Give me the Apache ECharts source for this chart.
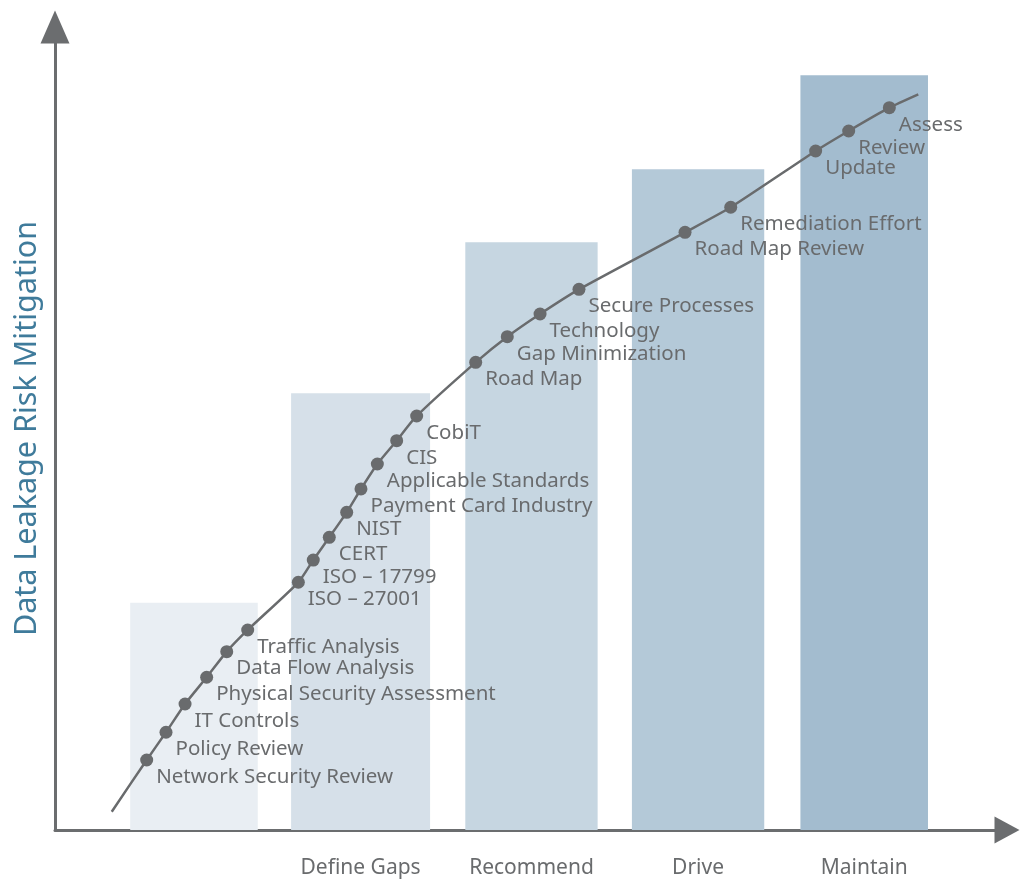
<!DOCTYPE html>
<html>
<head>
<meta charset="utf-8">
<script src="https://cdn.jsdelivr.net/npm/echarts@6/dist/echarts.min.js"></script>
<style>
html,body{margin:0;padding:0;background:#fff;}
#chart{width:1021px;height:882px;}
</style>
</head>
<body>
<div id="chart"></div>
<script>
// ---- data (chart units: x 0..100 along the horizontal axis, y 0..100 mitigation) ----
const phaseNames = ['', 'Define Gaps', 'Recommend', 'Drive', 'Maintain'];
const phaseStart = [7.9, 24.8, 43.1, 60.6, 78.3];
const phaseEnd   = [21.3, 39.4, 57.0, 74.5, 91.7];
const phaseLevel = [28.3, 54.4, 73.2, 82.3, 94.0];

const stepNames = ['', 'Network Security Review', 'Policy Review', 'IT Controls',
  'Physical Security Assessment', 'Data Flow Analysis', 'Traffic Analysis',
  'ISO – 27001', 'ISO – 17799', 'CERT', 'NIST', 'Payment Card Industry',
  'Applicable Standards', 'CIS', 'CobiT', 'Road Map', 'Gap Minimization',
  'Technology', 'Secure Processes', 'Road Map Review', 'Remediation Effort',
  'Update', 'Review', 'Assess', ''];
const stepX = [5.96, 9.63, 11.66, 13.66, 15.93, 18.04, 20.24, 25.56, 27.13, 28.81,
  30.64, 32.14, 33.86, 35.89, 37.99, 44.19, 47.51, 50.95, 55.04, 66.18, 70.98,
  79.90, 83.37, 87.64, 90.68];
const stepY = [2.28, 8.72, 12.17, 15.69, 19.02, 22.21, 24.91, 30.85, 33.62, 36.45,
  39.56, 42.47, 45.58, 48.48, 51.56, 58.24, 61.43, 64.26, 67.33, 74.43, 77.55,
  84.56, 87.05, 89.95, 91.62];

// ---- styles ----
const phaseColors = ['#e9eef3', '#d6e0e9', '#c6d6e1', '#b4c9d8', '#a3bccf'];
const inkGrey = '#696b6d';
const font = 'Noto Sans';

const chart = echarts.init(document.getElementById('chart'), null, {renderer: 'canvas'});

const phaseData = phaseNames.map((n, i) => [phaseStart[i], phaseEnd[i], phaseLevel[i], i]);
const labelValues = [];
const labelMap = {};
phaseNames.forEach((n, i) => {
  if (n) {
    const c = +((phaseStart[i] + phaseEnd[i]) / 2).toFixed(3);
    labelValues.push(c);
    labelMap[c] = n;
  }
});

const stepData = stepNames.map((n, i) => {
  const item = {name: n, value: [stepX[i], stepY[i]]};
  if (!n) { item.symbol = 'none'; item.label = {show: false}; }
  return item;
});

chart.setOption({
  animation: false,
  backgroundColor: '#ffffff',
  grid: {left: 55, right: 14, top: 27, bottom: 52, containLabel: false},
  xAxis: {
    type: 'value', min: 0, max: 100,
    splitLine: {show: false},
    axisTick: {show: false},
    axisLine: {
      show: true, onZero: false,
      lineStyle: {color: '#6b6d6f', width: 3},
      symbol: ['none', 'triangle'], symbolSize: [27, 25]
    },
    axisLabel: {
      show: true,
      customValues: labelValues,
      formatter: v => labelMap[+v.toFixed(3)] || '',
      color: inkGrey, fontFamily: font, fontSize: 21, margin: 28
    }
  },
  yAxis: {
    type: 'value', min: 0, max: 100,
    splitLine: {show: false},
    axisTick: {show: false},
    axisLabel: {show: false},
    axisLine: {
      show: true, onZero: false,
      lineStyle: {color: '#6b6d6f', width: 3},
      symbol: ['none', 'triangle'], symbolSize: [29, 33]
    },
    name: 'Data Leakage Risk Mitigation',
    nameLocation: 'middle',
    nameGap: 12,
    nameRotate: 90,
    nameTextStyle: {color: '#3f7b9b', fontFamily: font, fontSize: 30.5}
  },
  series: [
    {
      type: 'custom',
      data: phaseData,
      z: 1,
      renderItem: (params, api) => {
        const tl = api.coord([api.value(0), api.value(2)]);
        const br = api.coord([api.value(1), 0]);
        return {
          type: 'rect',
          shape: {x: tl[0], y: tl[1], width: br[0] - tl[0], height: br[1] - tl[1]},
          style: {fill: phaseColors[api.value(3)]}
        };
      },
      encode: {x: [0, 1], y: 2}
    },
    {
      type: 'line',
      data: stepData,
      z: 3,
      smooth: 0.2,
      symbol: 'circle',
      symbolSize: 13,
      lineStyle: {color: inkGrey, width: 2.5},
      itemStyle: {color: inkGrey},
      label: {
        show: true,
        position: 'right',
        distance: 3,
        offset: [0, 17],
        formatter: p => p.name,
        color: inkGrey,
        fontFamily: font,
        fontSize: 20.5
      }
    }
  ]
});
</script>
</body>
</html>
